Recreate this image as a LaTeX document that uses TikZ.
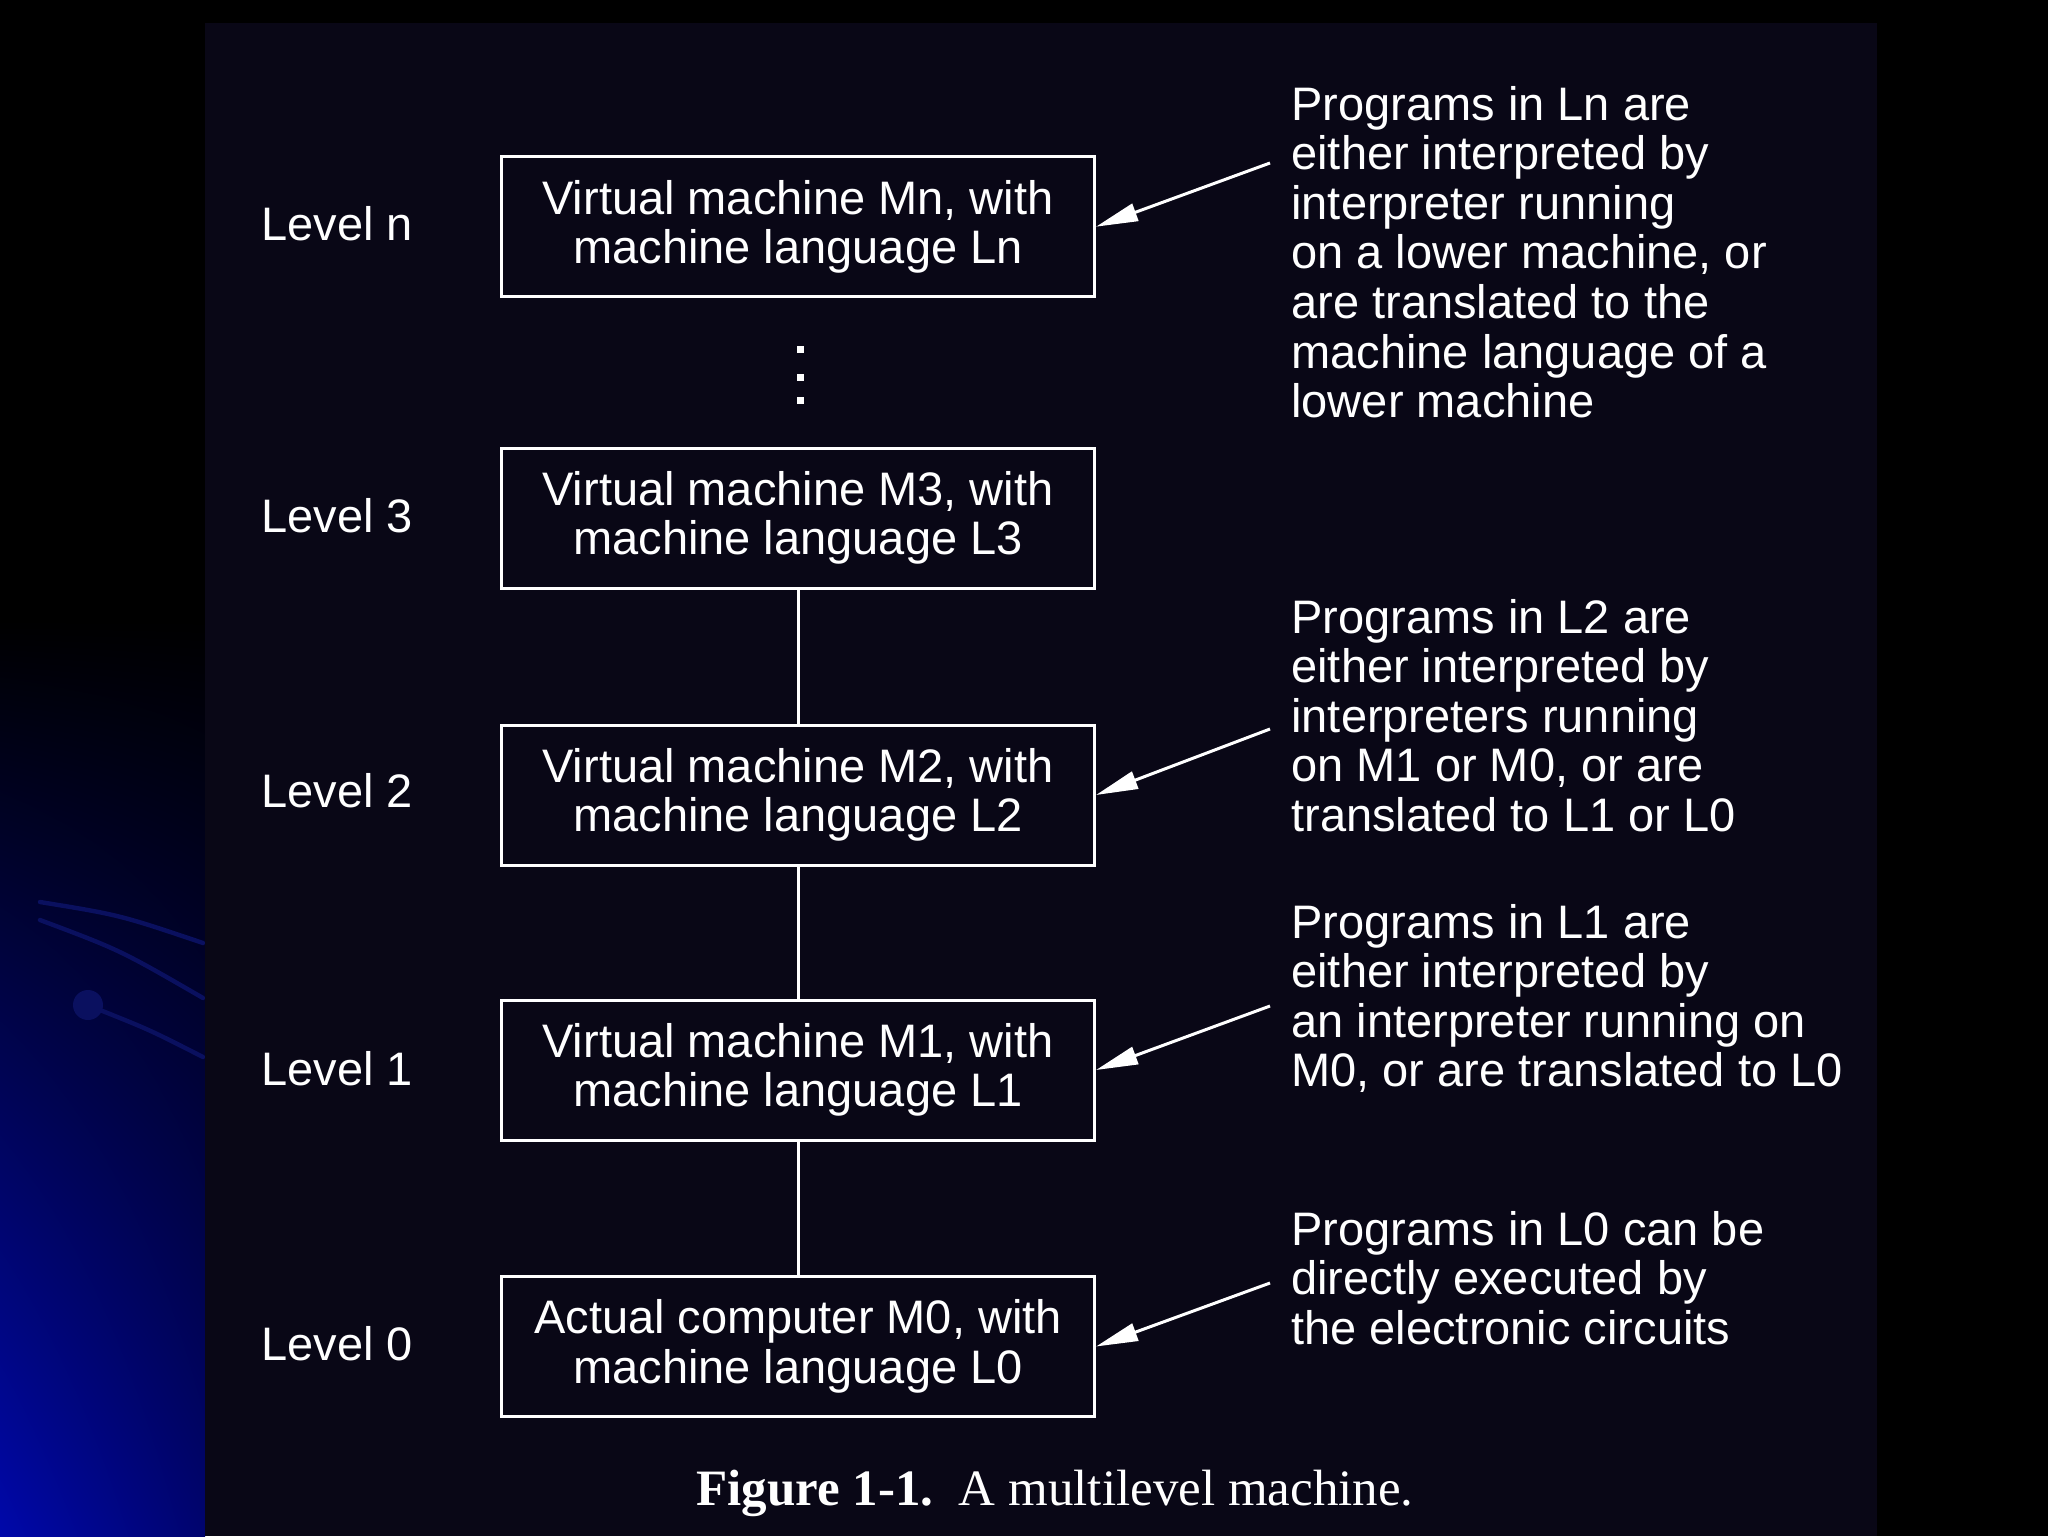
\documentclass[tikz,border=0pt]{standalone}
\usepackage{fontspec}
\setmainfont{Liberation Sans}
\newfontfamily\capfont{Liberation Serif}
\usetikzlibrary{arrows.meta,shadings}
\definecolor{noisebg}{RGB}{9,7,22}
\definecolor{slideblue}{RGB}{0,8,170}
\definecolor{slidebluedark}{RGB}{0,4,110}
\definecolor{faintblue}{RGB}{10,16,95}
\begin{document}
\begin{tikzpicture}[x=0.5pt,y=-0.5pt,
  txt/.style={text=white, inner sep=0pt, font=\fontsize{23.5}{24.8}\selectfont},
  machinebox/.style={txt, draw=white, line width=1.5pt, minimum width=296.5pt, minimum height=70pt, align=center},
  levellabel/.style={txt, anchor=base west},
  note/.style={txt, anchor=base west},
  link/.style={draw=white, line width=1.5pt},
  pointer/.style={draw=white, line width=1.5pt, -{Triangle[length=21pt,width=9pt]}},
  dotmark/.style={fill=white, minimum size=3.5pt, inner sep=0pt},
]
\useasboundingbox (0,0) rectangle (2048,1536);
% background
\fill[black] (0,0) rectangle (2048,1536);
\shade[upper left=black, upper right=black, lower left=slideblue, lower right=slidebluedark] (0,620) rectangle (205,1536);
\draw[faintblue, line width=2.2pt, line cap=round] (40,902) .. controls (120,915) .. (203,943);
\draw[faintblue, line width=2.2pt, line cap=round] (40,920) .. controls (120,950) .. (203,998);
\draw[faintblue, line width=2.2pt, line cap=round] (100,1010) .. controls (150,1030) .. (203,1057);
\fill[faintblue] (88,1005) circle (7.5pt);
\fill[noisebg] (205,23) rectangle (1877,1536);

% boxes
\node[machinebox] (bn) at (798,226.7) {Virtual machine Mn, with\\machine language Ln};
\node[machinebox] (b3) at (798,518) {Virtual machine M3, with\\machine language L3};
\node[machinebox] (b2) at (798,795) {Virtual machine M2, with\\machine language L2};
\node[machinebox] (b1) at (798,1070) {Virtual machine M1, with\\machine language L1};
\node[machinebox] (b0) at (798,1346.5) {Actual computer M0, with\\machine language L0};

% vertical dots
\node[dotmark] (d1) at (800,349) {};
\node[dotmark] (d2) at (800,377) {};
\node[dotmark] (d3) at (800,400) {};

% connectors
\draw[link] (b3.south) -- (b2.north);
\draw[link] (b2.south) -- (b1.north);
\draw[link] (b1.south) -- (b0.north);

% level labels
\node[levellabel] (ln) at (261,240) {Level n};
\node[levellabel] (l3) at (261,532) {Level 3};
\node[levellabel] (l2) at (261,807) {Level 2};
\node[levellabel] (l1) at (261,1085) {Level 1};
\node[levellabel] (l0) at (261,1360) {Level 0};

% notes
\node[note] (nn) at (1291,120) {\begin{tabular}[t]{@{}l@{}}Programs in Ln are\\either interpreted by\\interpreter running\\on a lower machine, or\\are translated to the\\machine language of a\\lower machine\end{tabular}};
\node[note] (n2) at (1291,633) {\begin{tabular}[t]{@{}l@{}}Programs in L2 are\\either interpreted by\\interpreters running\\on M1 or M0, or are\\translated to L1 or L0\end{tabular}};
\node[note] (n1) at (1291,938) {\begin{tabular}[t]{@{}l@{}}Programs in L1 are\\either interpreted by\\an interpreter running on\\M0, or are translated to L0\end{tabular}};
\node[note] (n0) at (1291,1245) {\begin{tabular}[t]{@{}l@{}}Programs in L0 can be\\directly executed by\\the electronic circuits\end{tabular}};

% pointers
\coordinate (pn) at (1270,163);
\coordinate (p2) at (1270,729);
\coordinate (p1) at (1270,1006);
\coordinate (p0) at (1270,1283);
\draw[pointer] (pn) -- (bn.east);
\draw[pointer] (p2) -- (b2.east);
\draw[pointer] (p1) -- (b1.east);
\draw[pointer] (p0) -- (b0.east);

% caption
\node[text=white, inner sep=0pt, anchor=base, font=\capfont\fontsize{25.5}{27}\selectfont] (cap) at (1055,1505) {\textbf{Figure 1-1.}\ \ A multilevel machine.};
\end{tikzpicture}
\end{document}
